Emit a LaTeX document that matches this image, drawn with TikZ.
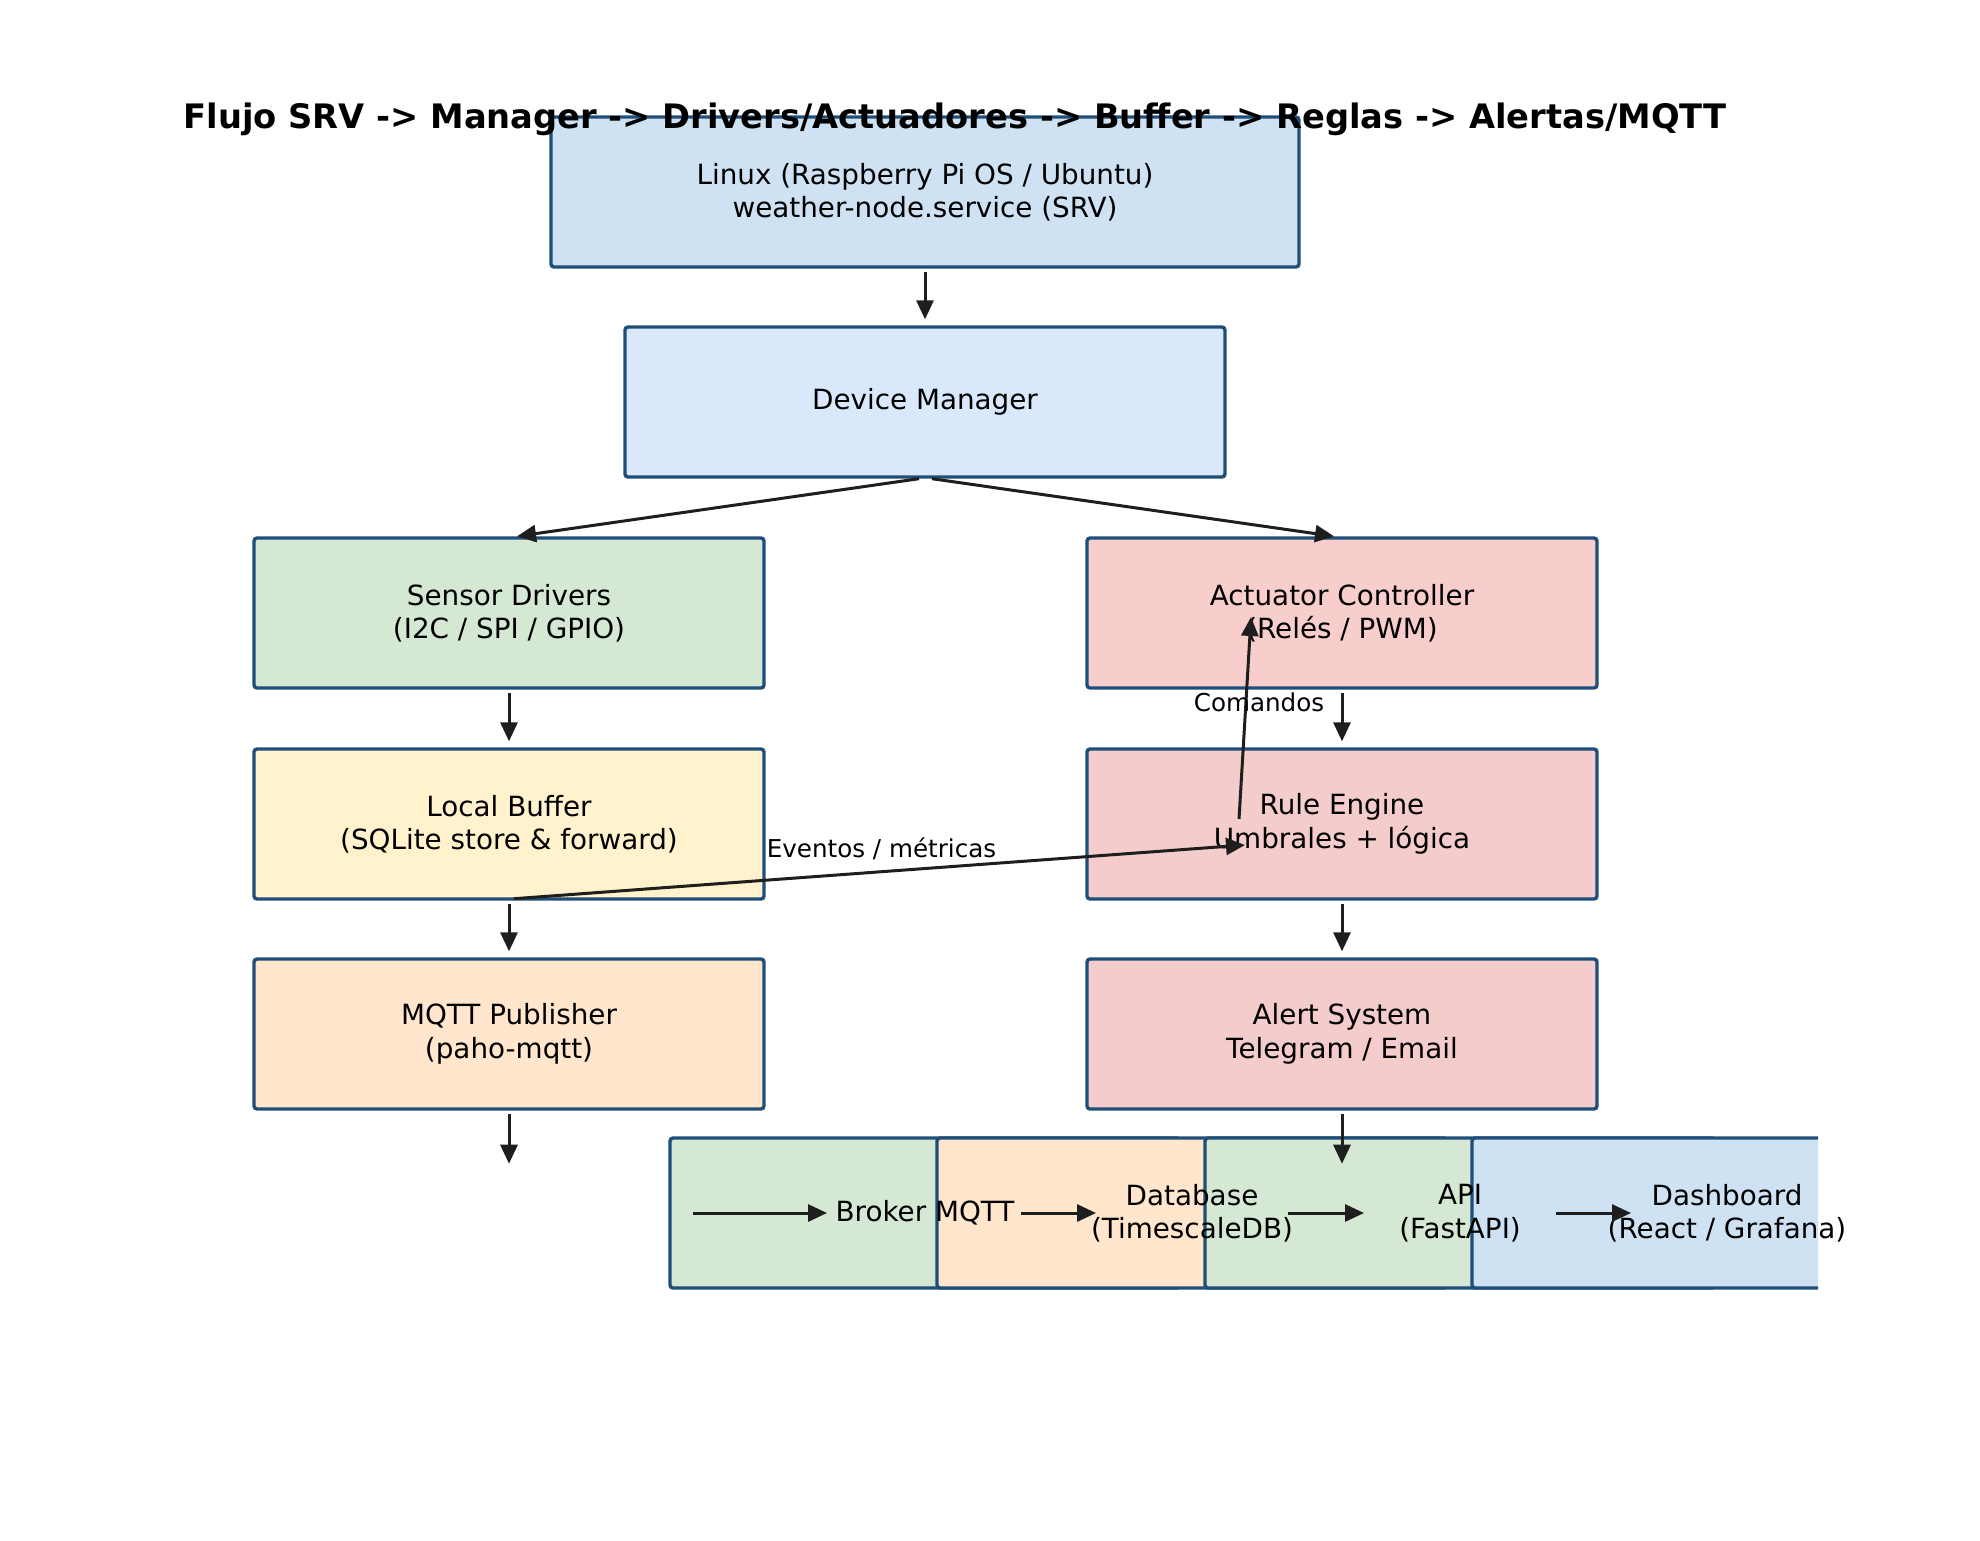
\documentclass[tikz,border=0pt]{standalone}
\usepackage{fontspec}
\setmainfont{DejaVu Sans}
\usetikzlibrary{arrows.meta}

\definecolor{edgeblue}{HTML}{1F4E79}
\definecolor{arrowgray}{HTML}{1E1E1E}
\definecolor{linuxfill}{HTML}{CFE2F3}
\definecolor{managerfill}{HTML}{DAE8FC}
\definecolor{sensorfill}{HTML}{D5E8D4}
\definecolor{bufferfill}{HTML}{FFF2CC}
\definecolor{publishfill}{HTML}{FFE6CC}
\definecolor{actuatorfill}{HTML}{F8CECC}
\definecolor{rulefill}{HTML}{F4CCCC}

\tikzset{
    box/.style={draw=edgeblue, line width=3.4pt, rounded corners=3pt,
        minimum width=510pt, minimum height=150pt, inner sep=0pt,
        align=center, font=\fontsize{27.8}{33.4}\selectfont},
    boxtext/.style={align=center, inner sep=0pt, font=\fontsize{27.8}{33.4}\selectfont},
    flow/.style={draw=arrowgray, line width=3pt, -{Triangle[length=19pt,width=17pt]}},
    vflow/.style={flow, shorten <=3pt, shorten >=6pt},
    flowlabel/.style={font=\fontsize{24.6}{30}\selectfont, inner sep=0pt}
}

\begin{document}
\begin{tikzpicture}[x=1pt, y=-1pt]
    \useasboundingbox (0, 0) rectangle (1980, 1540);

    % top of the stack
    \node[box, fill=linuxfill, minimum width=748pt] (linux) at (925, 192)
        {Linux (Raspberry Pi OS / Ubuntu)\\weather-node.service (SRV)};
    \node[box, fill=managerfill, minimum width=600pt] (manager) at (925, 402) {Device Manager};

    % left column
    \node[box, fill=sensorfill] (sensors) at (509, 613) {Sensor Drivers\\(I2C / SPI / GPIO)};
    \node[box, fill=bufferfill] (buffer) at (509, 824) {Local Buffer\\(SQLite store \& forward)};
    \node[box, fill=publishfill] (publisher) at (509, 1034) {MQTT Publisher\\(paho-mqtt)};

    % right column
    \node[box, fill=actuatorfill] (actuator) at (1342, 613) {Actuator Controller\\(Relés / PWM)};
    \node[box, fill=rulefill] (rules) at (1342, 824) {Rule Engine\\Umbrales + lógica};
    \node[box, fill=rulefill] (alerts) at (1342, 1034) {Alert System\\Telegram / Email};

    % bottom row, cut at the right edge
    \begin{scope}
        \clip (0, 0) rectangle (1818, 1540);
        \node[box, fill=sensorfill] (broker) at (925, 1213) {};
        \node[box, fill=publishfill] (database) at (1192, 1213) {};
        \node[box, fill=sensorfill] (api) at (1460, 1213) {};
        \node[box, fill=linuxfill] (dashboard) at (1727, 1213) {};
    \end{scope}
    \node[boxtext] (brokertext) at (broker.center) {Broker MQTT};
    \node[boxtext] (databasetext) at (database.center) {Database\\(TimescaleDB)};
    \node[boxtext] (apitext) at (api.center) {API\\(FastAPI)};
    \node[boxtext] (dashboardtext) at (dashboard.center) {Dashboard\\(React / Grafana)};

    % connectors
    \draw[vflow] (linux.south) -- (manager.north);
    \draw[flow] ([xshift=-6pt]manager.south) -- ([xshift=8pt]sensors.north);
    \draw[flow] ([xshift=7pt]manager.south) -- ([xshift=-8pt]actuator.north);
    \draw[vflow] (sensors.south) -- (buffer.north);
    \draw[vflow] (buffer.south) -- (publisher.north);
    \draw[vflow] (actuator.south) -- (rules.north);
    \draw[vflow] (rules.south) -- (alerts.north);

    \coordinate (publisherout) at ([yshift=-53pt]publisher.south);
    \coordinate (alertsout) at ([yshift=-53pt]alerts.south);
    \draw[flow, shorten <=3pt] (publisher.south) -- (publisherout);
    \draw[flow, shorten <=3pt] (alerts.south) -- (alertsout);

    \draw[flow] ([xshift=5pt, yshift=2pt]buffer.south) -- ([shift={(-97pt,-21pt)}]rules.center)
        node[flowlabel, midway, xshift=2pt, yshift=23pt] {Eventos / métricas};
    \draw[flow] ([shift={(-103pt,5pt)}]rules.center) -- ([shift={(-91pt,-4pt)}]actuator.center)
        node[flowlabel, midway, xshift=14pt, yshift=16pt] {Comandos};

    \coordinate (brokerin) at ([xshift=-232pt]broker.center);
    \draw[flow] (brokerin) -- ([xshift=-98pt]broker.center);
    \foreach \from/\to in {broker/database, database/api, api/dashboard}
        \draw[flow] ([xshift=96pt]\from.center) -- ([xshift=-96pt]\to.center);

    % title
    \node[font=\bfseries\fontsize{33.7}{40}\selectfont, inner sep=0pt] (title) at (955, 119)
        {Flujo SRV -> Manager -> Drivers/Actuadores -> Buffer -> Reglas -> Alertas/MQTT};
\end{tikzpicture}
\end{document}
